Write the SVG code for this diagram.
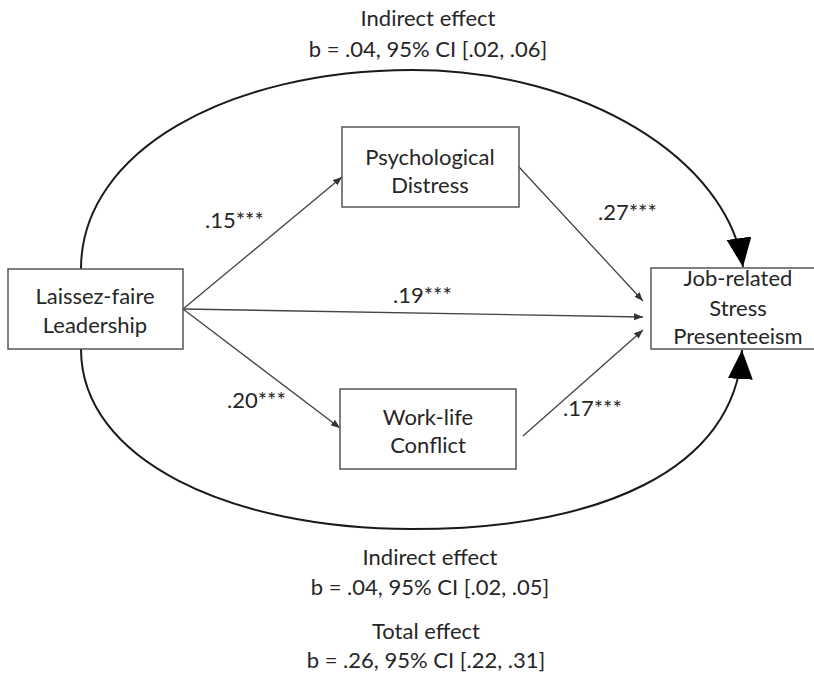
<svg xmlns="http://www.w3.org/2000/svg" width="814" height="673" viewBox="0 0 814 673">
<style>
  text { font-family: Lato, "Open Sans", "Liberation Sans", sans-serif; font-size: 22px; fill: #262626; }
  .box { fill: #ffffff; stroke: #555555; stroke-width: 1.5; }
  .path { fill: none; stroke: #444444; stroke-width: 1.3; }
  .arc { fill: none; stroke: #1a1a1a; stroke-width: 2; }
  .c { text-anchor: middle; }
</style>
<defs>
  <marker id="ah" markerUnits="userSpaceOnUse" markerWidth="10" markerHeight="8" refX="9" refY="4" orient="auto">
    <path d="M0,0.5 L9,4 L0,7.5 z" fill="#333333"/>
  </marker>
  <marker id="big" markerUnits="userSpaceOnUse" markerWidth="30" markerHeight="26" refX="29" refY="12.5" orient="auto">
    <path d="M0,0 L29,12.5 L0,25 z" fill="#000000"/>
  </marker>
</defs>
<rect width="814" height="673" fill="#ffffff"/>

<g id="connectors">
  <path class="arc" d="M81,269 C81,150 230,70 412,70 C585,70 728,160 743,267" marker-end="url(#big)"/>
  <path class="arc" d="M81,349 C81,460 230,529 412,529 C600,529 735,470 742,350" marker-end="url(#big)"/>
  <line class="path" x1="183" y1="309" x2="342" y2="177" marker-end="url(#ah)"/>
  <line class="path" x1="183" y1="309" x2="340" y2="428" marker-end="url(#ah)"/>
  <line class="path" x1="183" y1="309" x2="643" y2="317" marker-end="url(#ah)"/>
  <line class="path" x1="519" y1="167" x2="643" y2="301" marker-end="url(#ah)"/>
  <line class="path" x1="523" y1="436" x2="643" y2="330" marker-end="url(#ah)"/>
</g>

<g id="laissez-faire">
  <rect class="box" x="8" y="269" width="175" height="80"/>
  <text class="c" x="95" y="304">Laissez-faire</text>
  <text class="c" x="95" y="333">Leadership</text>
</g>
<g id="psych-distress">
  <rect class="box" x="342" y="127" width="177" height="80"/>
  <text class="c" x="430" y="165">Psychological</text>
  <text class="c" x="430" y="193">Distress</text>
</g>
<g id="work-life">
  <rect class="box" x="340" y="389" width="176" height="80"/>
  <text class="c" x="428" y="425">Work-life</text>
  <text class="c" x="428" y="453">Conflict</text>
</g>
<g id="presenteeism">
  <rect class="box" x="651" y="268" width="175" height="81"/>
  <text class="c" x="738" y="286">Job-related</text>
  <text class="c" x="738" y="316">Stress</text>
  <text class="c" x="738" y="344">Presenteeism</text>
</g>

<g id="labels">
  <text x="205" y="228">.15***</text>
  <text x="598" y="220">.27***</text>
  <text x="393" y="303">.19***</text>
  <text x="227" y="408">.20***</text>
  <text x="563" y="416">.17***</text>
  <text class="c" x="428" y="26">Indirect effect</text>
  <text class="c" x="428" y="57">b = .04, 95% CI [.02, .06]</text>
  <text class="c" x="430" y="565">Indirect effect</text>
  <text class="c" x="430" y="595">b = .04, 95% CI [.02, .05]</text>
  <text class="c" x="426" y="639">Total effect</text>
  <text class="c" x="426" y="668">b = .26, 95% CI [.22, .31]</text>
</g>
</svg>
